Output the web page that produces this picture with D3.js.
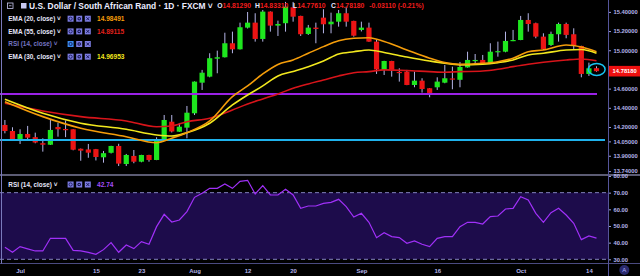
<!DOCTYPE html>
<html>
<head>
<meta charset="utf-8">
<script src="https://cdn.jsdelivr.net/npm/d3@7"></script>
<style>
html, body { margin: 0; padding: 0; background: #000; }
svg { display: block; }
text { font-family: "Liberation Sans", Arial, sans-serif; }
</style>
</head>
<body>
<svg id="svg1" width="640" height="276"></svg>
<script>
// trading days shown on the chart (Jun 27 - Oct 15, 2019)
var dates = [
  '2019-06-27','2019-06-28',
  '2019-07-01','2019-07-02','2019-07-03','2019-07-04','2019-07-05','2019-07-08','2019-07-09','2019-07-10','2019-07-11','2019-07-12',
  '2019-07-15','2019-07-16','2019-07-17','2019-07-18','2019-07-19','2019-07-22','2019-07-23','2019-07-24','2019-07-25','2019-07-26',
  '2019-07-29','2019-07-30','2019-07-31',
  '2019-08-01','2019-08-02','2019-08-05','2019-08-06','2019-08-07','2019-08-08','2019-08-09','2019-08-12','2019-08-13','2019-08-14',
  '2019-08-15','2019-08-16','2019-08-19','2019-08-20','2019-08-21','2019-08-22','2019-08-23','2019-08-26','2019-08-27','2019-08-28',
  '2019-08-29','2019-08-30',
  '2019-09-02','2019-09-03','2019-09-04','2019-09-05','2019-09-06','2019-09-09','2019-09-10','2019-09-11','2019-09-12','2019-09-13',
  '2019-09-16','2019-09-17','2019-09-18','2019-09-19','2019-09-20','2019-09-23','2019-09-24','2019-09-25','2019-09-26','2019-09-27',
  '2019-09-30',
  '2019-10-01','2019-10-02','2019-10-03','2019-10-04','2019-10-07','2019-10-08','2019-10-09','2019-10-10','2019-10-11','2019-10-14',
  '2019-10-15'
];

var opens = [
  14.221,14.158,14.070,14.127,14.094,14.031,14.015,14.200,14.179,14.176,
  13.973,13.966,13.969,13.884,13.931,14.002,13.814,13.898,13.838,13.908,
  13.856,14.065,14.255,14.151,14.193,14.343,14.662,14.725,14.912,14.927,
  15.073,15.010,15.236,15.288,15.118,15.403,15.257,15.282,15.448,15.358,
  15.170,15.236,15.340,15.271,15.298,15.386,15.306,15.212,15.236,15.090,
  14.795,14.888,14.774,14.777,14.638,14.683,14.604,14.614,14.662,14.706,
  14.692,14.821,14.888,14.899,14.864,14.980,14.985,15.097,15.107,15.316,
  15.282,15.142,15.055,15.167,15.274,15.167,15.045,14.753,14.8129
];
var highs = [
  14.273,14.197,14.176,14.211,14.141,14.082,14.280,14.242,14.268,14.178,
  13.975,14.023,13.971,13.950,14.004,14.025,13.919,13.960,13.910,13.910,
  14.093,14.325,14.325,14.242,14.419,14.675,14.795,14.969,14.996,15.183,
  15.194,15.288,15.399,15.386,15.420,15.405,15.309,15.504,15.504,15.360,
  15.264,15.288,15.428,15.392,15.420,15.455,15.308,15.298,15.288,15.107,
  14.890,14.890,14.812,14.795,14.777,14.708,14.606,14.718,14.847,14.829,
  14.878,14.985,14.961,14.951,15.073,15.090,15.194,15.212,15.358,15.386,
  15.288,15.177,15.194,15.288,15.288,15.229,15.047,14.871,14.8331
];
var lows = [
  14.134,14.055,14.023,14.072,14.030,13.943,14.012,14.099,14.094,13.957,
  13.848,13.879,13.851,13.828,13.924,13.793,13.793,13.822,13.832,13.838,
  13.854,14.062,14.143,14.149,14.082,14.325,14.586,14.718,14.760,14.925,
  14.969,15.008,15.227,15.090,15.090,15.194,15.149,15.194,15.298,15.149,
  15.160,15.073,15.177,15.177,15.246,15.246,15.142,15.196,15.088,14.753,
  14.742,14.725,14.673,14.636,14.614,14.558,14.510,14.586,14.656,14.593,
  14.614,14.819,14.857,14.847,14.857,14.933,14.979,15.095,15.105,15.194,
  15.125,15.003,15.045,15.090,15.125,15.010,14.718,14.732,14.7761
];
var closes = [
  14.158,14.057,14.127,14.089,14.038,14.015,14.169,14.176,14.169,13.963,
  13.953,13.932,13.887,13.927,14.002,13.818,13.908,13.838,13.908,13.856,
  14.072,14.273,14.153,14.203,14.349,14.673,14.766,14.917,14.927,15.073,
  15.010,15.240,15.288,15.118,15.403,15.257,15.274,15.455,15.350,15.167,
  15.236,15.222,15.271,15.298,15.386,15.298,15.152,15.236,15.090,14.800,
  14.888,14.795,14.765,14.638,14.683,14.596,14.555,14.673,14.708,14.695,
  14.826,14.899,14.899,14.857,14.985,14.991,15.097,15.107,15.316,15.274,
  15.142,15.010,15.170,15.274,15.160,15.045,14.753,14.812,14.7818
];

var rsiValues = [
  37.2,34.2,37.6,36.3,35.0,35.0,42.6,42.6,42.6,35.4,
  35.0,34.2,33.0,35.8,40.0,34.2,38.6,36.4,40.6,39.0,
  49.6,57.0,52.4,53.6,58.6,67.2,69.6,72.6,72.6,75.2,
  72.6,76.8,77.4,69.2,74.2,68.6,68.6,72.0,68.6,60.6,
  62.0,62.0,63.6,64.2,66.0,61.6,55.4,57.6,52.2,43.0,
  46.0,43.6,43.0,39.6,41.0,39.0,37.6,42.6,43.6,43.6,
  49.6,52.2,52.2,51.2,55.6,56.0,60.2,60.6,67.6,65.6,
  57.6,52.2,58.0,60.6,56.6,51.6,41.8,44.0,42.74
];

// moving averages at these candle positions
var emaIdx = [0,5,10,16,20,22,24,27,30,32,34,36,38,40,42,44,46,48,50,53,56,58,60,63,65,67,69,71,74,76,78];
var ema20Values = [14.464,14.308,14.187,14.099,14.036,14.082,14.141,14.263,14.516,14.628,14.753,14.852,14.899,14.969,15.038,15.100,
  15.125,15.131,15.092,15.003,14.917,14.871,14.854,14.864,14.881,14.917,14.985,15.003,15.055,15.034,14.98491];
var ema30Values = [14.489,14.343,14.239,14.176,14.117,14.106,14.141,14.239,14.430,14.534,14.628,14.732,14.779,14.829,14.888,14.961,
  14.985,15.003,14.977,14.930,14.888,14.864,14.847,14.854,14.871,14.899,14.951,14.969,15.003,15.008,14.96953];
var ema55Values = [14.447,14.367,14.308,14.263,14.203,14.211,14.255,14.291,14.377,14.440,14.492,14.544,14.604,14.649,14.690,14.732,
  14.766,14.777,14.795,14.789,14.777,14.771,14.777,14.784,14.802,14.829,14.854,14.875,14.899,14.909,14.89115];

// drawn horizontal levels
var purpleLevel = 14.544;
var cyanLevel = 14.065;

var priceTicks = [15.4, 15.2, 15.0, 14.6, 14.4, 14.2, 14.05, 13.9, 13.74];
var rsiTicks = [80, 70, 60, 50, 40, 30];
var timeTicks = ['2019-07-01','2019-07-15','2019-07-23','2019-08-01','2019-08-12','2019-08-20','2019-09-02','2019-09-16','2019-10-01','2019-10-14'];
var timeLabels = ['Jul','15','23','Aug','12','20','Sep','16','Oct','14'];

var legendRows = [
  {name: 'EMA (20, close)', value: '14.98491', color: '#f59d0a'},
  {name: 'EMA (55, close)', value: '14.89115', color: '#e3211c'},
  {name: 'RSI (14, close)', value: '', color: '#7474c0'},
  {name: 'EMA (30, close)', value: '14.96953', color: '#f2e81e'}
];

var svg = d3.select('#svg1');
var axisX = 608;
var paneBottom = 175;
var rsiBottom = 263.5;

var x = d3.scalePoint().domain(dates).range([4.9, 596.5]);
var y = d3.scaleLinear().domain([13.74, 15.4]).range([171.1, 11.9]);
var yR = d3.scaleLinear().domain([30, 80]).range([259.3, 176]);

svg.append('rect').attr('width', 640).attr('height', 276).attr('fill', '#000');

var defs = svg.append('defs');
defs.append('clipPath').attr('id', 'clipPrice')
  .append('rect').attr('x', 0).attr('y', 0).attr('width', axisX).attr('height', paneBottom);
defs.append('clipPath').attr('id', 'clipRsi')
  .append('rect').attr('x', 0).attr('y', paneBottom).attr('width', axisX).attr('height', rsiBottom - paneBottom);

// ---------- price pane ----------
var price = svg.append('g').attr('clip-path', 'url(#clipPrice)');

var candles = dates.map(function(d, i) {
  return {date: d, o: opens[i], h: highs[i], l: lows[i], c: closes[i]};
});

price.selectAll('.wick')
  .data(candles)
  .enter().append('line')
  .attr('class', 'wick')
  .attr('x1', function(d) { return x(d.date); })
  .attr('x2', function(d) { return x(d.date); })
  .attr('y1', function(d) { return y(d.h); })
  .attr('y2', function(d) { return y(d.l); })
  .attr('stroke', '#b4b4e6')
  .attr('stroke-width', 1);

price.selectAll('.body')
  .data(candles)
  .enter().append('rect')
  .attr('class', 'body')
  .attr('x', function(d) { return x(d.date) - 2.6; })
  .attr('width', 5.2)
  .attr('y', function(d) { return y(Math.max(d.o, d.c)); })
  .attr('height', function(d) { return Math.max(1.2, Math.abs(y(d.o) - y(d.c))); })
  .attr('fill', function(d) { return d.c >= d.o ? '#1ee61e' : '#ec1414'; });

// horizontal levels
price.append('line')
  .attr('x1', 0).attr('x2', 597)
  .attr('y1', y(purpleLevel)).attr('y2', y(purpleLevel))
  .attr('stroke', '#9a22e6').attr('stroke-width', 2);
price.append('line')
  .attr('x1', 0).attr('x2', 605)
  .attr('y1', y(cyanLevel)).attr('y2', y(cyanLevel))
  .attr('stroke', '#1fb2ec').attr('stroke-width', 2);

// EMA lines
function emaLine(values) {
  return d3.line()
    .x(function(d, k) { return x(dates[emaIdx[k]]); })
    .y(function(d) { return y(d); })
    .curve(d3.curveMonotoneX)(values);
}
price.append('path').attr('d', emaLine(ema55Values))
  .attr('fill', 'none').attr('stroke', '#d8141a').attr('stroke-width', 1.6);
price.append('path').attr('d', emaLine(ema30Values))
  .attr('fill', 'none').attr('stroke', '#f2e81e').attr('stroke-width', 1.6);
price.append('path').attr('d', emaLine(ema20Values))
  .attr('fill', 'none').attr('stroke', '#f59d0a').attr('stroke-width', 1.6);

// circle round the last candle
price.append('ellipse')
  .attr('cx', x(dates[dates.length - 1]) + 0.2)
  .attr('cy', y(14.80))
  .attr('rx', 8.4).attr('ry', 6)
  .attr('fill', 'none').attr('stroke', '#18c4f2').attr('stroke-width', 1.5);

// ---------- RSI pane ----------
var rsi = svg.append('g').attr('clip-path', 'url(#clipRsi)');

rsi.append('rect')
  .attr('x', 0).attr('width', axisX)
  .attr('y', yR(70)).attr('height', yR(30) - yR(70))
  .attr('fill', '#1d0c4b');

rsi.selectAll('.band-line')
  .data([70, 30])
  .enter().append('line')
  .attr('class', 'band-line')
  .attr('x1', 0).attr('x2', axisX)
  .attr('y1', function(d) { return yR(d); })
  .attr('y2', function(d) { return yR(d); })
  .attr('stroke', '#8282bc').attr('stroke-width', 1)
  .attr('stroke-dasharray', '4,3');

rsi.append('path')
  .datum(rsiValues)
  .attr('d', d3.line()
    .x(function(d, i) { return x(dates[i]); })
    .y(function(d) { return yR(d); }))
  .attr('fill', 'none').attr('stroke', '#a030f8').attr('stroke-width', 1.2);

// ---------- frame ----------
svg.append('line').attr('x1', 0).attr('x2', 640).attr('y1', paneBottom).attr('y2', paneBottom)
  .attr('stroke', '#b8b8e8').attr('stroke-width', 1.2);
svg.append('line').attr('x1', 0).attr('x2', 640).attr('y1', rsiBottom).attr('y2', rsiBottom)
  .attr('stroke', '#4a4a80').attr('stroke-width', 1);
svg.append('line').attr('x1', 1.5).attr('x2', 1.5).attr('y1', 0).attr('y2', rsiBottom)
  .attr('stroke', '#7a7abc').attr('stroke-width', 1);

// price axis
var yAxis = svg.append('g')
  .attr('transform', 'translate(' + axisX + ',0)')
  .call(d3.axisRight(y).tickValues(priceTicks).tickFormat(d3.format('.5f')).tickSize(3).tickPadding(2.5));
var rAxis = svg.append('g')
  .attr('transform', 'translate(' + axisX + ',0)')
  .call(d3.axisRight(yR).tickValues(rsiTicks).tickFormat(d3.format('.2f')).tickSize(3).tickPadding(2.5));
[yAxis, rAxis].forEach(function(g) {
  g.select('.domain').remove();
  g.selectAll('line').attr('stroke', '#9a9ad8');
  g.selectAll('text').attr('fill', '#b4b4ea').style('font-size', '5.8px').style('font-weight', 'bold');
});
svg.append('line').attr('x1', axisX + 0.5).attr('x2', axisX + 0.5).attr('y1', 0).attr('y2', 276)
  .attr('stroke', '#55559a').attr('stroke-width', 1);

// last price label
var lastY = y(closes[closes.length - 1]);
svg.append('rect').attr('x', axisX + 1).attr('y', lastY - 5.3).attr('width', 32).attr('height', 10.6)
  .attr('fill', '#ee1010');
svg.append('text').attr('x', axisX + 4.6).attr('y', lastY).attr('dy', '0.35em')
  .attr('fill', '#ffffff').style('font-size', '5.8px').style('font-weight', 'bold')
  .text(d3.format('.5f')(closes[closes.length - 1]));

// time axis
var xAxis = svg.append('g')
  .attr('transform', 'translate(0,' + rsiBottom + ')')
  .call(d3.axisBottom(x).tickValues(timeTicks).tickFormat(function(d, i) { return timeLabels[i]; })
    .tickSize(0).tickPadding(5));
xAxis.select('.domain').remove();
xAxis.selectAll('text').attr('fill', '#b4b4ea').style('font-size', '6px').style('font-weight', 'bold');

svg.append('circle').attr('cx', 624.3).attr('cy', 270).attr('r', 5).attr('fill', '#2a2a6e');
svg.append('text').attr('x', 624.3).attr('y', 270).attr('dy', '0.35em').attr('text-anchor', 'middle')
  .attr('fill', '#b0b0ff').style('font-size', '6px').text('A');

// ---------- header ----------
var head = svg.append('g');
head.append('rect').attr('x', 7.5).attr('y', 3).attr('width', 5.5).attr('height', 5.5)
  .attr('fill', 'none').attr('stroke', '#c8c8f0').attr('stroke-width', 0.8);
head.append('line').attr('x1', 9).attr('x2', 11.5).attr('y1', 5.75).attr('y2', 5.75)
  .attr('stroke', '#c8c8f0').attr('stroke-width', 0.8);
head.append('rect').attr('x', 21).attr('y', 3).attr('width', 5.5).attr('height', 5.5).attr('fill', '#c8c8f0');
head.append('text').attr('x', 29).attr('y', 5.8).attr('dy', '0.35em')
  .attr('fill', '#ececff').style('font-size', '8.4px').style('font-weight', 'bold')
  .text('U.S. Dollar / South African Rand \u00b7 1D \u00b7 FXCM \u02c5');

var ohlc = [
  {k: 'O', v: '14.81290', x: 217.3},
  {k: 'H', v: '14.83310', x: 255},
  {k: 'L', v: '14.77610', x: 293},
  {k: 'C', v: '14.78180', x: 331}
];
ohlc.forEach(function(d) {
  var t = head.append('text').attr('x', d.x).attr('y', 5.8).attr('dy', '0.35em')
    .style('font-size', '6.8px').style('font-weight', 'bold');
  t.append('tspan').attr('fill', '#e8e8ff').text(d.k);
  t.append('tspan').attr('fill', '#f01c1c').text(d.v);
});
head.append('text').attr('x', 369.3).attr('y', 5.8).attr('dy', '0.35em')
  .attr('fill', '#f01c1c').style('font-size', '6.8px').style('font-weight', 'bold')
  .text('-0.03110 (-0.21%)');

// legend rows
function legendRow(g, yc, name, nameColor, value, valueColor, activeFirst) {
  g.append('text').attr('x', 8.3).attr('y', yc).attr('dy', '0.35em')
    .attr('fill', nameColor).style('font-size', '6.4px').style('font-weight', 'bold')
    .text(name + ' \u02c5');
  [67.6, 76.2, 84.8].forEach(function(bx, k) {
    g.append('rect').attr('x', bx).attr('y', yc - 3).attr('width', 6).attr('height', 6)
      .attr('fill', (activeFirst && k === 0) ? '#3a8cf0' : '#7c7ce0');
    if (k === 0) {
      g.append('circle').attr('cx', bx + 3).attr('cy', yc).attr('r', 1.6)
        .attr('fill', 'none').attr('stroke', '#10104a').attr('stroke-width', 0.8);
    } else if (k === 1) {
      g.append('circle').attr('cx', bx + 3).attr('cy', yc).attr('r', 1.8).attr('fill', '#10104a');
      g.append('circle').attr('cx', bx + 3).attr('cy', yc).attr('r', 0.8).attr('fill', '#7c7ce0');
    } else {
      g.append('path').attr('d', 'M' + (bx + 1.5) + ',' + (yc - 1.5) + 'L' + (bx + 4.5) + ',' + (yc + 1.5) +
        'M' + (bx + 4.5) + ',' + (yc - 1.5) + 'L' + (bx + 1.5) + ',' + (yc + 1.5))
        .attr('stroke', '#10104a').attr('stroke-width', 0.9);
    }
  });
  if (value) {
    g.append('text').attr('x', 97).attr('y', yc).attr('dy', '0.35em')
      .attr('fill', valueColor).style('font-size', '6.6px').style('font-weight', 'bold')
      .text(value);
  }
}
var legendY = [18.7, 31.4, 44, 56.7];
legendRows.forEach(function(r, i) {
  var nameColor = r.value ? '#e6e6fa' : '#7474c0';
  legendRow(head, legendY[i], r.name, nameColor, r.value, r.color, !r.value);
});
legendRow(head, 184.5, 'RSI (14, close)', '#e6e6fa', '42.74', '#a24cf6', false);
</script>
</body>
</html>
